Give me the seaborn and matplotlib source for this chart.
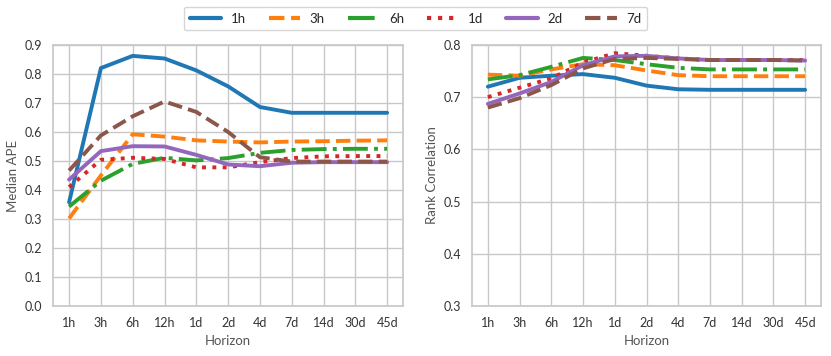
import numpy as np
import pandas as pd
import matplotlib
matplotlib.use("Agg")
import matplotlib.pyplot as plt
import seaborn as sns

horizons = ["1h", "3h", "6h", "12h", "1d", "2d", "4d", "7d", "14d", "30d", "45d"]
series = ["1h", "3h", "6h", "1d", "2d", "7d"]

ape_1h = [0.358, 0.820, 0.862, 0.853, 0.812, 0.757, 0.686, 0.666, 0.666, 0.666, 0.666]
ape_3h = [0.302, 0.450, 0.592, 0.584, 0.571, 0.567, 0.564, 0.567, 0.568, 0.570, 0.571]
ape_6h = [0.343, 0.432, 0.490, 0.511, 0.502, 0.510, 0.528, 0.538, 0.541, 0.542, 0.542]
ape_1d = [0.410, 0.504, 0.511, 0.507, 0.478, 0.478, 0.496, 0.510, 0.516, 0.517, 0.517]
ape_2d = [0.436, 0.534, 0.551, 0.550, 0.521, 0.488, 0.482, 0.494, 0.496, 0.496, 0.496]
ape_7d = [0.467, 0.588, 0.654, 0.705, 0.669, 0.600, 0.513, 0.498, 0.498, 0.498, 0.498]

rc_1h = [0.720, 0.737, 0.741, 0.744, 0.737, 0.722, 0.715, 0.714, 0.714, 0.714, 0.714]
rc_3h = [0.743, 0.741, 0.753, 0.763, 0.761, 0.751, 0.742, 0.740, 0.740, 0.740, 0.740]
rc_6h = [0.734, 0.742, 0.758, 0.775, 0.771, 0.763, 0.756, 0.753, 0.753, 0.753, 0.753]
rc_1d = [0.700, 0.718, 0.736, 0.766, 0.784, 0.779, 0.774, 0.771, 0.771, 0.771, 0.771]
rc_2d = [0.687, 0.707, 0.729, 0.761, 0.778, 0.779, 0.774, 0.771, 0.771, 0.771, 0.770]
rc_7d = [0.680, 0.698, 0.723, 0.755, 0.773, 0.775, 0.773, 0.771, 0.771, 0.771, 0.770]

ape = {"1h": ape_1h, "3h": ape_3h, "6h": ape_6h, "1d": ape_1d, "2d": ape_2d, "7d": ape_7d}
rc = {"1h": rc_1h, "3h": rc_3h, "6h": rc_6h, "1d": rc_1d, "2d": rc_2d, "7d": rc_7d}

def long_df(d):
    rows = []
    for s in series:
        for h, v in zip(horizons, d[s]):
            rows.append({"Horizon": h, "value": v, "model": s})
    return pd.DataFrame(rows)

sns.set_theme(style="whitegrid")
plt.rcParams["font.family"] = ["Lato", "DejaVu Sans"]
plt.rcParams["grid.color"] = "#c8c8c8"
plt.rcParams["axes.edgecolor"] = "#c8c8c8"
plt.rcParams["axes.labelcolor"] = "#555555"
plt.rcParams["xtick.color"] = "#333333"
plt.rcParams["ytick.color"] = "#333333"

palette = dict(zip(series, sns.color_palette("tab10", 6)))
dashes = {"1h": "", "3h": (3.7, 1.6), "6h": (6.4, 1.6, 1, 1.6), "1d": (1, 1.65),
          "2d": "", "7d": (3.7, 1.6)}

fig = plt.figure(figsize=(8.31, 3.56), dpi=100)
ax1 = fig.add_axes([0.064, 0.140, 0.421, 0.734])
ax2 = fig.add_axes([0.568, 0.140, 0.420, 0.734])

for ax, d, ylab, ylim, yt in [
    (ax1, ape, "Median APE", (0.0, 0.9), np.arange(0, 0.91, 0.1)),
    (ax2, rc, "Rank Correlation", (0.3, 0.8), np.arange(0.3, 0.81, 0.1)),
]:
    df = long_df(d)
    sns.lineplot(data=df, x="Horizon", y="value", hue="model", style="model",
                 hue_order=series, style_order=series, palette=palette,
                 dashes=dashes, linewidth=2.8, sort=False, ax=ax)
    ax.set_ylim(*ylim)
    ax.set_yticks(yt)
    ax.set_yticklabels([f"{v:.1f}" for v in yt])
    ax.set_xlim(-0.5, len(horizons) - 0.5)
    ax.set_ylabel(ylab, fontsize=9.5)
    ax.set_xlabel("Horizon", fontsize=9.5)
    ax.tick_params(labelsize=9, pad=2)
    handles, labels = ax.get_legend_handles_labels()
    ax.get_legend().remove()

leg = fig.legend(handles, labels, loc="upper center", bbox_to_anchor=(0.5, 1.0),
                 ncol=6, fontsize=9.5, frameon=True, handlelength=2.4,
                 handletextpad=0.7, columnspacing=1.75, borderpad=0.45)
for h in leg.get_lines():
    h.set_linewidth(3.0)

fig.savefig("out.png", dpi=100)
